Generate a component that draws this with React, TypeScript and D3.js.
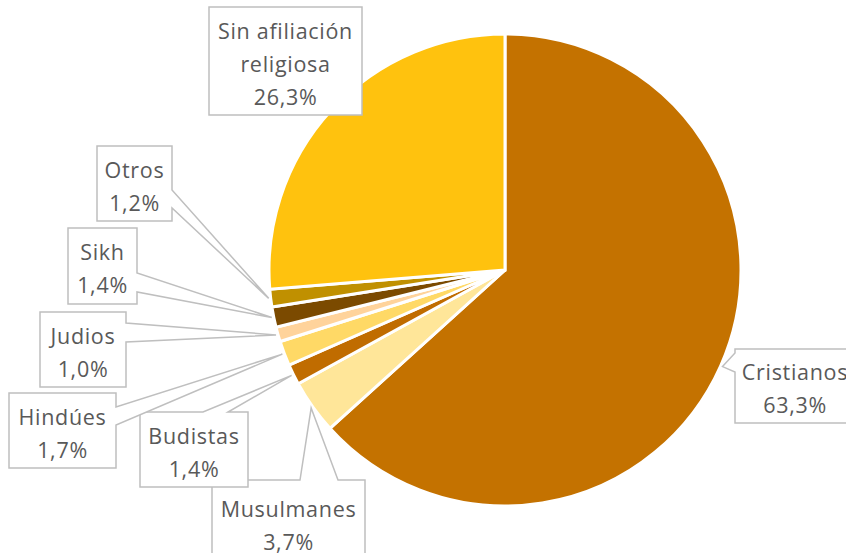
import React from 'react';
import * as d3 from 'd3';

// religiones, orden en sentido horario desde las 12
const categories = ['Cristianos', 'Musulmanes', 'Budistas', 'Hindúes', 'Judios', 'Sikh', 'Otros', 'Sin afiliación religiosa'];
const values = [63.3, 3.7, 1.4, 1.7, 1.0, 1.4, 1.2, 26.3];
const colors = ['#C47200', '#FFE699', '#C06C00', '#FFD966', '#FFD39B', '#7B4A00', '#C09000', '#FFC20E'];
const labelLines = [
  ['Cristianos'],
  ['Musulmanes'],
  ['Budistas'],
  ['Hindúes'],
  ['Judios'],
  ['Sikh'],
  ['Otros'],
  ['Sin afiliación', 'religiosa'],
];

// cajas de las etiquetas (layout), wedge: lado y tramo del borde
type Side = 'left' | 'right' | 'top' | 'none';
const boxes: { x: number; y: number; w: number; h: number; side: Side; a: number; b: number }[] = [
  { x: 735, y: 349, w: 120, h: 74, side: 'left', a: 353, b: 372 },
  { x: 212, y: 480, w: 153, h: 86, side: 'top', a: 300, b: 338 },
  { x: 140, y: 412, w: 108, h: 75, side: 'top', a: 203, b: 228 },
  { x: 9, y: 393, w: 107, h: 75, side: 'right', a: 407, b: 425 },
  { x: 40, y: 312, w: 86, h: 75, side: 'right', a: 323, b: 342 },
  { x: 68, y: 228, w: 69, h: 76, side: 'right', a: 273, b: 292 },
  { x: 97, y: 146, w: 75, h: 75, side: 'right', a: 190, b: 208 },
  { x: 209, y: 7, w: 153, h: 108, side: 'none', a: 0, b: 0 },
];

const width = 846;
const height = 553;
const cx = 505;
const cy = 270;
const radius = 236;

const fmt = (v: number) => v.toFixed(1).replace('.', ',') + '%';

function calloutPath(bx: typeof boxes[number], tip: [number, number]) {
  const { x, y, w, h, side, a, b } = bx;
  const r = x + w;
  const btm = y + h;
  const [tx, ty] = tip;
  // en sentido horario desde la esquina superior izquierda
  let p = `M${x},${y}`;
  if (side === 'top') p += `L${a},${y}L${tx},${ty}L${b},${y}`;
  p += `L${r},${y}`;
  if (side === 'right') p += `L${r},${a}L${tx},${ty}L${r},${b}`;
  p += `L${r},${btm}L${x},${btm}`;
  if (side === 'left') p += `L${x},${b}L${tx},${ty}L${x},${a}`;
  return p + 'Z';
}

export default function App() {
  const pie = d3
    .pie<number>()
    .sort(null)
    .value((d) => d);
  const arcs = pie(values);
  const arc = d3.arc<d3.PieArcDatum<number>>().innerRadius(0).outerRadius(radius);
  const tipArc = d3.arc<d3.PieArcDatum<number>>().innerRadius(radius + 2).outerRadius(radius + 2);

  return (
    <svg width={width} height={height} style={{ position: 'absolute', left: 0, top: 0 }}>
      <rect width={width} height={height} fill="#fff" />
      <g transform={`translate(${cx},${cy})`}>
        {arcs.map((d, i) => (
          <path key={categories[i]} d={arc(d) ?? ''} fill={colors[i]} stroke="#fff" strokeWidth={3} strokeLinejoin="miter" />
        ))}
      </g>
      {arcs.map((d, i) => {
        const c = tipArc.centroid(d);
        const tip: [number, number] = [c[0] + cx, c[1] + cy];
        const bx = boxes[i];
        const lines = [...labelLines[i], fmt(values[i])];
        const mid = bx.x + bx.w / 2;
        const lh = 33;
        const y0 = bx.y + bx.h / 2 - ((lines.length - 1) * lh) / 2 + 2;
        return (
          <g key={categories[i]}>
            <path d={calloutPath(bx, tip)} fill="#fff" stroke="#BFBFBF" strokeWidth={1.5} />
            {lines.map((t, j) => (
              <text
                key={j}
                x={mid}
                y={y0 + j * lh}
                textAnchor="middle"
                dominantBaseline="central"
                fontFamily="'Open Sans', sans-serif"
                fontSize={21.5}
                letterSpacing={0.7}
                fill="#595959"
              >
                {t}
              </text>
            ))}
          </g>
        );
      })}
    </svg>
  );
}
